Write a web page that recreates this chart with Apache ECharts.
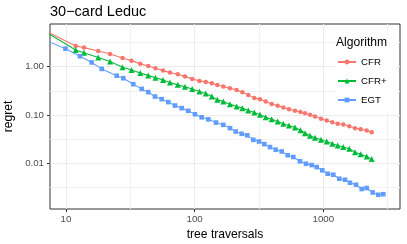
<!DOCTYPE html>
<html><head><meta charset="utf-8">
<script src="https://cdn.jsdelivr.net/npm/echarts@6/dist/echarts.min.js"></script>
<style>html,body{margin:0;padding:0;background:#fff}#c{width:407px;height:244px}</style>
</head><body><div id="c"></div>
<script>
const chartTitle = '30−card Leduc';
const xTitle = 'tree traversals';
const yTitle = 'regret';
const legendTitle = 'Algorithm';
const seriesNames = ['CFR', 'CFR+', 'EGT'];

const xTicks = [10, 100, 1000];
const xMinorTicks = [31.62, 316.2, 3162];
const yTicks = [0.01, 0.1, 1];
const yMinorTicks = [0.00316, 0.0316, 0.316, 3.162];
const xLimits = [7.51, 3947];
const yLimits = [0.001148, 7.59];

// CFR and CFR+ share the same tree-traversal counts
const cfrX = [6, 11.9, 13.8, 17.8, 22, 27.5, 32.3, 37.8, 43.6, 49.6, 56.8, 64.3, 74, 84.1, 95.7, 109, 122, 136, 150, 167, 188, 212, 235, 261, 291, 322, 357, 397, 442, 489, 541, 603, 665, 721, 788, 862, 960, 1063, 1175, 1294, 1430, 1592, 1764, 1953, 2174, 2378];
const cfrY = [6.6, 2.67, 2.47, 2.11, 1.83, 1.51, 1.33, 1.14, 1.03, 0.927, 0.827, 0.752, 0.697, 0.622, 0.558, 0.507, 0.484, 0.455, 0.419, 0.387, 0.359, 0.331, 0.297, 0.261, 0.226, 0.211, 0.19, 0.17, 0.155, 0.144, 0.132, 0.122, 0.116, 0.109, 0.101, 0.0931, 0.0835, 0.077, 0.0707, 0.0659, 0.0637, 0.0585, 0.0537, 0.0512, 0.0479, 0.0444];
const cfrPlusY = [6.6, 2.21, 1.94, 1.55, 1.27, 0.972, 0.855, 0.742, 0.659, 0.591, 0.532, 0.472, 0.42, 0.385, 0.344, 0.305, 0.278, 0.241, 0.206, 0.19, 0.168, 0.15, 0.139, 0.124, 0.113, 0.101, 0.0905, 0.0823, 0.0735, 0.0659, 0.0607, 0.0553, 0.0484, 0.042, 0.0373, 0.0339, 0.0308, 0.0284, 0.0255, 0.0235, 0.0218, 0.0201, 0.017, 0.0155, 0.0139, 0.0123];
const egtX = [6, 9.91, 12.85, 15.84, 18.95, 24.78, 27.89, 33.36, 38.77, 43.62, 49.17, 55.44, 62.41, 70.37, 79.32, 89.29, 100.6, 113.4, 127.7, 146.6, 167, 188.3, 208.5, 232.1, 256.6, 285.7, 316.4, 347.8, 385.2, 426.6, 475, 528.9, 584.7, 659, 733.6, 812.4, 888.6, 982.2, 1082, 1196, 1332, 1475, 1613, 1796, 1989, 2174, 2421, 2676, 2927];
const egtY = [4.1, 2.35, 1.64, 1.22, 0.897, 0.649, 0.577, 0.434, 0.347, 0.297, 0.241, 0.213, 0.185, 0.157, 0.139, 0.122, 0.104, 0.0897, 0.0815, 0.07, 0.0628, 0.0537, 0.0457, 0.041, 0.0381, 0.0308, 0.0284, 0.0251, 0.0218, 0.0192, 0.0177, 0.0148, 0.0136, 0.0111, 0.00986, 0.00927, 0.00843, 0.00724, 0.00613, 0.00585, 0.00484, 0.00461, 0.004, 0.00364, 0.00297, 0.00311, 0.00252, 0.00226, 0.00232];

const colors = ['#F8766D', '#00BA38', '#619CFF'];
const FONT = '"Liberation Sans", Arial, Helvetica, sans-serif';
const L = v => Math.log10(v);
const mk = (xs, ys) => xs.map((x, i) => [L(x), L(ys[i])]);

const chart = echarts.init(document.getElementById('c'), null, {renderer: 'canvas'});
const axisCommon = {
  type: 'value', axisLine: {show: false, onZero: false}
};
const option = {
  animation: false,
  textStyle: {fontFamily: FONT},
  title: [
    {text: chartTitle, left: 50, top: 4, padding: 0,
     textStyle: {fontSize: 14.5, fontWeight: 'normal', color: '#000', fontFamily: FONT}},
    {text: legendTitle, left: 336, top: 37, padding: 0, z: 20,
     textStyle: {fontSize: 12.1, fontWeight: 'normal', color: '#000', fontFamily: FONT}}
  ],
  grid: {left: 50, right: 7, top: 24, bottom: 35, show: true, borderColor: '#333', borderWidth: 1,
         backgroundColor: 'transparent', containLabel: false, outerBoundsMode: 'none'},
  graphic: [{type: 'rect', shape: {x: 335, y: 33, width: 63, height: 80}, style: {fill: '#fff'}, z: 5}],
  legend: {
    left: 335, top: 33, orient: 'vertical', padding: [24, 4, 6, 2],
    itemWidth: 18, itemHeight: 6, itemGap: 9, z: 20,
    textStyle: {fontSize: 9.7, color: '#000', fontFamily: FONT},
    data: seriesNames
  },
  xAxis: [
    Object.assign({}, axisCommon, {
      min: L(xLimits[0]), max: L(xLimits[1]),
      axisTick: {show: true, length: 3, customValues: xTicks.map(L), lineStyle: {color: '#333', width: 1}},
      axisLabel: {customValues: xTicks.map(L), formatter: v => String(Math.round(Math.pow(10, v))),
                  color: '#4d4d4d', fontSize: 9.7, margin: 5, fontFamily: FONT},
      splitLine: {show: true, lineStyle: {color: '#ebebeb', width: 1}},
      name: xTitle, nameLocation: 'middle', nameGap: 18,
      nameTextStyle: {fontSize: 12.1, color: '#000', fontFamily: FONT}
    }),
    Object.assign({}, axisCommon, {
      min: L(xLimits[0]), max: L(xLimits[1]),
      axisTick: {show: false, customValues: xMinorTicks.map(L)},
      axisLabel: {show: false, customValues: xMinorTicks.map(L)},
      splitLine: {show: true, lineStyle: {color: '#f2f2f2', width: 1}}
    })
  ],
  yAxis: [
    Object.assign({}, axisCommon, {
      min: L(yLimits[0]), max: L(yLimits[1]),
      axisTick: {show: true, length: 3, customValues: yTicks.map(L), lineStyle: {color: '#333', width: 1}},
      axisLabel: {customValues: yTicks.map(L), formatter: v => Math.pow(10, v).toFixed(2),
                  color: '#4d4d4d', fontSize: 9.7, margin: 6, fontFamily: FONT},
      splitLine: {show: true, lineStyle: {color: '#ebebeb', width: 1}},
      name: yTitle, nameLocation: 'middle', nameGap: 30,
      nameTextStyle: {fontSize: 12.1, color: '#000', fontFamily: FONT}
    }),
    Object.assign({}, axisCommon, {
      min: L(yLimits[0]), max: L(yLimits[1]),
      axisTick: {show: false, customValues: yMinorTicks.map(L)},
      axisLabel: {show: false, customValues: yMinorTicks.map(L)},
      splitLine: {show: true, lineStyle: {color: '#f2f2f2', width: 1}}
    })
  ],
  series: [
    {name: seriesNames[0], data: mk(cfrX, cfrY), symbol: 'circle', symbolSize: 4.5},
    {name: seriesNames[1], data: mk(cfrX, cfrPlusY), symbol: 'triangle', symbolSize: 6},
    {name: seriesNames[2], data: mk(egtX, egtY), symbol: 'rect', symbolSize: 4.6}
  ].map((s, i) => Object.assign({
    type: 'line', xAxisIndex: 0, yAxisIndex: 0, clip: true, showSymbol: true,
    color: colors[i], lineStyle: {color: colors[i], width: 1.1}, itemStyle: {color: colors[i]},
    emphasis: {disabled: true}, z: 3
  }, s))
};
chart.setOption(option);
</script></body></html>
